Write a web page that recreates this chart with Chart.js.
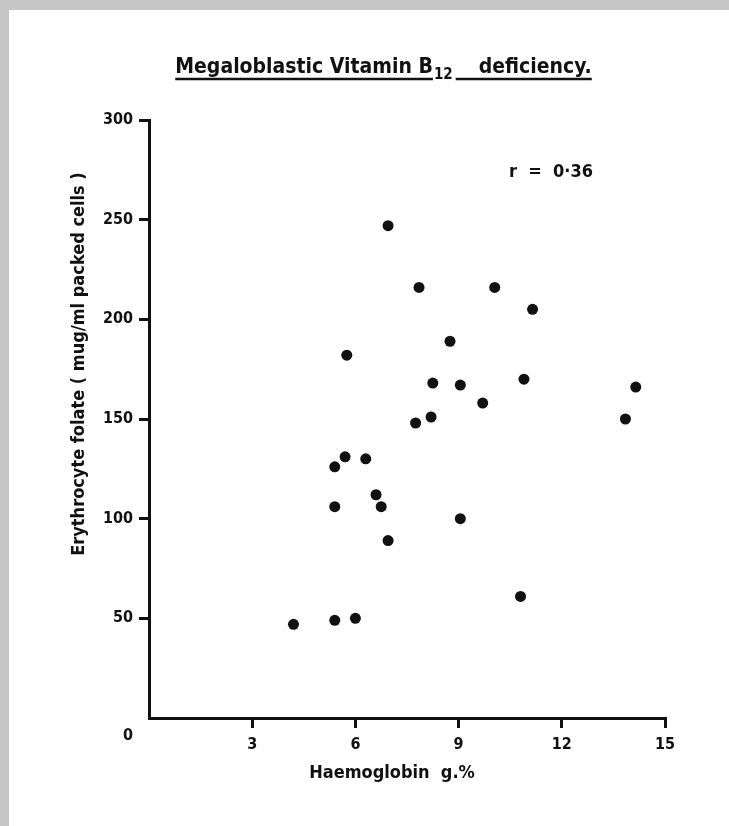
<!DOCTYPE html>
<html>
<head>
<meta charset="utf-8">
<title>Megaloblastic Vitamin B12 deficiency</title>
<script src="https://cdn.jsdelivr.net/npm/chart.js@4.4.1/dist/chart.umd.min.js"></script>
<style>
  html, body { margin: 0; padding: 0; background: #fff; }
  canvas { display: block; }
</style>
</head>
<body>
<canvas id="folateChart" width="729" height="826"></canvas>
<script>
// Haemoglobin (g %) and erythrocyte folate (mug/ml packed cells) per patient
const haemoglobin = [4.2, 5.4, 6.0, 5.4, 5.4, 5.7, 6.3, 6.6, 6.75, 6.95, 5.75, 6.95, 7.85,
                     7.75, 8.2, 8.25, 8.75, 9.05, 9.05, 9.7, 10.05, 10.9, 11.15, 10.8, 13.85, 14.15];
const folate = [47, 49, 50, 106, 126, 131, 130, 112, 106, 89, 182, 247, 216,
                148, 151, 168, 189, 167, 100, 158, 216, 170, 205, 61, 150, 166];

const xTicks = [0, 3, 6, 9, 12, 15];
const yTicks = [0, 50, 100, 150, 200, 250, 300];
const correlation = 'r  =  0\u00b736';

const INK = '#111';
const FAMILY = '"Liberation Sans Narrow", "DejaVu Sans Condensed", "Arial Narrow", sans-serif';
const font = (size) => `bold ${size}px ${FAMILY}`;

// hide the tick mark / label at the origin; a single "0" sits at the corner instead
const noZero = (c) => (c.tick && c.tick.value === 0 ? 'rgba(0,0,0,0)' : INK);

// paper background, headings and the free-standing labels
const paperText = {
  id: 'paperText',
  beforeDraw(chart) {
    const ctx = chart.ctx;
    ctx.save();
    ctx.fillStyle = '#fff';
    ctx.fillRect(0, 0, chart.width, chart.height);
    ctx.fillStyle = '#c6c6c6';
    ctx.fillRect(0, 0, chart.width, 10);
    ctx.fillRect(0, 0, 9, chart.height);
    ctx.restore();
  },
  afterDraw(chart) {
    const ctx = chart.ctx;
    ctx.save();
    ctx.fillStyle = INK;
    ctx.strokeStyle = INK;
    ctx.textBaseline = 'alphabetic';

    // title with subscript and underline
    const part1 = 'Megaloblastic Vitamin B';
    const sub = '12';
    const part2 = 'deficiency.';
    ctx.font = font(21);
    const w1 = ctx.measureText(part1).width;
    const w3 = ctx.measureText(part2).width;
    ctx.font = font(15);
    const w2 = ctx.measureText(sub).width;
    const gap = 26;
    const total = w1 + w2 + gap + w3;
    let x = 383 - total / 2;
    const base = 73;
    ctx.textAlign = 'left';
    ctx.font = font(21);
    ctx.fillText(part1, x, base);
    ctx.lineWidth = 2.5;
    ctx.beginPath();
    ctx.moveTo(x, base + 6);
    ctx.lineTo(x + w1, base + 6);
    ctx.stroke();
    x += w1 + 1;
    ctx.font = font(15);
    ctx.fillText(sub, x, base + 6);
    x += w2 + 3;
    ctx.beginPath();
    ctx.moveTo(x, base + 6);
    ctx.lineTo(x + gap - 3 + w3, base + 6);
    ctx.stroke();
    x += gap - 3;
    ctx.font = font(21);
    ctx.fillText(part2, x, base);

    // correlation coefficient
    ctx.font = font(18);
    ctx.fillText(correlation, 509, 177);

    // corner zero
    ctx.font = font(16);
    ctx.textAlign = 'center';
    ctx.fillText('0', 128, 740);

    // x axis title
    ctx.font = font(18);
    ctx.fillText('Haemoglobin  g.%', 392, 778);

    // y axis title
    ctx.translate(84, 364);
    ctx.rotate(-Math.PI / 2);
    ctx.font = font(18);
    ctx.fillText('Erythrocyte folate ( mug/ml packed cells )', 0, 0);
    ctx.restore();
  }
};

new Chart(document.getElementById('folateChart'), {
  type: 'scatter',
  data: {
    datasets: [{
      data: haemoglobin.map((hb, i) => ({ x: hb, y: folate[i] })),
      backgroundColor: INK,
      borderWidth: 0,
      pointRadius: 5.5,
      pointHoverRadius: 5.5
    }]
  },
  options: {
    responsive: false,
    animation: false,
    events: [],
    layout: { padding: { left: 89, right: 64, top: 120, bottom: 48 } },
    plugins: { legend: { display: false }, tooltip: { enabled: false } },
    scales: {
      x: {
        type: 'linear',
        min: xTicks[0],
        max: xTicks[xTicks.length - 1],
        afterBuildTicks: (s) => { s.ticks = xTicks.map(v => ({ value: v })); },
        afterFit: (s) => { s.height = 60; },
        ticks: {
          callback: (v) => (v === 0 ? '' : v),
          color: INK,
          font: { family: FAMILY, size: 16, weight: 'bold' },
          padding: 7,
          maxRotation: 0
        },
        grid: {
          drawOnChartArea: false,
          drawTicks: true,
          tickLength: 10,
          tickWidth: 3,
          tickColor: noZero,
          color: noZero,
          lineWidth: 3
        },
        border: { display: true, color: INK, width: 3 }
      },
      y: {
        type: 'linear',
        min: yTicks[0],
        max: yTicks[yTicks.length - 1],
        afterBuildTicks: (s) => { s.ticks = yTicks.map(v => ({ value: v })); },
        afterFit: (s) => { s.width = 60; },
        ticks: {
          callback: (v) => (v === 0 ? '' : v),
          color: INK,
          font: { family: FAMILY, size: 16, weight: 'bold' },
          padding: 6
        },
        grid: {
          drawOnChartArea: false,
          drawTicks: true,
          tickLength: 10,
          tickWidth: 3,
          tickColor: noZero,
          color: noZero,
          lineWidth: 3
        },
        border: { display: true, color: INK, width: 3 }
      }
    }
  },
  plugins: [paperText]
});
</script>
</body>
</html>
